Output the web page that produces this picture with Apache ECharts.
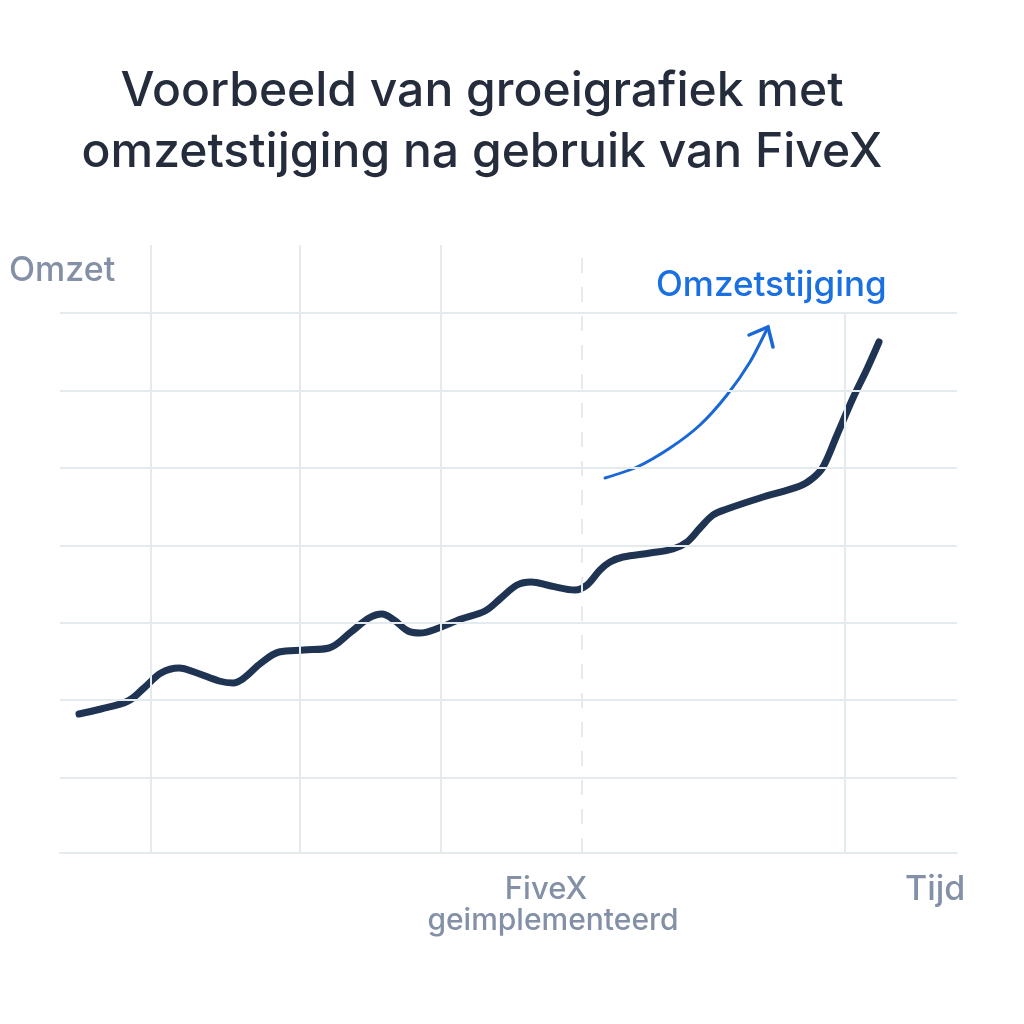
<!DOCTYPE html>
<html>
<head>
<meta charset="utf-8">
<title>Groeigrafiek</title>
<script src="https://cdn.jsdelivr.net/npm/echarts@6/dist/echarts.min.js"></script>
<style>
  html, body { margin: 0; padding: 0; background: #fff; }
  #chart { width: 1024px; height: 1024px; }
</style>
</head>
<body>
<div id="chart"></div>
<script>
// tijd / omzet
const revenueLine = [
  [1.9,13.9],[4.1,14.4],[6.8,15.2],[8.4,16.5],[10.1,18.0],[11.9,18.5],[13.7,18.0],[15.9,17.2],
  [17.3,17.0],[18.4,17.5],[20.1,19.0],[21.9,20.1],[24.4,20.3],[26.9,20.5],[29.1,22.1],[30.9,23.5],
  [32.2,23.9],[33.4,23.3],[34.8,22.2],[36.0,22.0],[37.6,22.4],[40.1,23.4],[42.5,24.2],[44.1,25.5],
  [45.7,26.8],[47.1,27.1],[49.1,26.7],[51.5,26.3],[52.7,26.8],[54.0,28.3],[55.0,29.1],[56.3,29.6],
  [59.0,30.0],[61.3,30.4],[62.7,31.1],[64.0,32.5],[65.3,33.8],[66.7,34.4],[70.0,35.5],[74.0,36.7],
  [75.3,37.5],[76.3,38.6],[77.7,41.8],[79.3,45.5],[80.7,48.4],[81.9,51.1]
];
const arrowCurve = [[54.5,37.5],[57.7,38.6],[61.0,40.5],[64.0,42.8],[66.7,45.8],[69.0,49.1],[70.8,52.6]];
const arrowHead = [[68.9,51.8],[70.8,52.6],[71.3,50.6]];

const gridRows = [7.5, 15.3, 23.0, 30.7, 38.5, 46.2, 54.0];
const gridCols = [[9.1, 60.8], [24.0, 60.8], [38.1, 60.8], [78.5, 54.0]];
const fivexCol = 52.2;
const xMax = 89.7;
const yMax = 60.8;

const titleText = "Voorbeeld van groeigrafiek met\nomzetstijging na gebruik van FiveX";
const yName = "Omzet";
const xName = "Tijd";
const fivexName = "FiveX";
const fivexSub = "geimplementeerd";
const riseName = "Omzetstijging";

const fontName = "Inter";
const gridColor = "#e4ebef";
const mutedText = "#8390a6";

function label(text, x, y, size, color, weight, align) {
  return {
    type: "text", x: x, y: y, silent: true,
    style: {
      text: text, fill: color, font: `${weight} ${size}px ${fontName}`,
      textAlign: align || "left", textVerticalAlign: "middle"
    }
  };
}

const chart = echarts.init(document.getElementById("chart"));
chart.setOption({
  animation: false,
  backgroundColor: "#fff",
  title: {
    text: titleText,
    left: 477, top: 56, textAlign: "center",
    textStyle: { color: "#252d3d", fontFamily: fontName, fontWeight: 500, fontSize: 48, lineHeight: 61 }
  },
  grid: { left: 60, right: 67, top: 245, bottom: 171 },
  xAxis: {
    type: "value", min: 0, max: xMax,
    axisLine: { show: true, onZero: false, lineStyle: { color: gridColor, width: 2 } },
    axisTick: { show: false }, axisLabel: { show: false }, splitLine: { show: false }
  },
  yAxis: {
    type: "value", min: 0, max: yMax,
    axisLine: { show: false }, axisTick: { show: false },
    axisLabel: { show: false }, splitLine: { show: false }
  },
  graphic: [
    label(yName, 9, 271, 34, mutedText, 500),
    label(riseName, 656, 285, 35, "#1a70e0", 500),
    label(fivexName, 546, 890, 31, mutedText, 500, "center"),
    label(fivexSub, 553, 921, 30, mutedText, 500, "center"),
    label(xName, 905, 890, 34, mutedText, 500)
  ],
  series: [
    {
      // rasterlijnen
      type: "line", data: [], silent: true,
      markLine: {
        silent: true, symbol: "none", animation: false, label: { show: false },
        lineStyle: { color: gridColor, width: 2, type: "solid" },
        data: gridRows.map((y) => [{ coord: [0, y] }, { coord: [xMax, y] }])
          .concat(gridCols.map((c) => [{ coord: [c[0], 0] }, { coord: [c[0], c[1]] }]))
          .concat([[
            { coord: [fivexCol, 0], lineStyle: { type: [15, 14], color: gridColor, width: 2 } },
            { coord: [fivexCol, yMax] }
          ]])
      }
    },
    {
      name: "Omzet", type: "line", data: revenueLine, smooth: 0.35,
      showSymbol: false, silent: true, z: 4,
      lineStyle: { color: "#1f3453", width: 7, cap: "round", join: "round" }
    },
    {
      name: "Omzetstijging", type: "line", data: arrowCurve, smooth: 0.25,
      showSymbol: false, silent: true, z: 3,
      lineStyle: { color: "#1a68d6", width: 3, cap: "round" }
    },
    {
      type: "line", data: arrowHead,
      showSymbol: false, silent: true, z: 3,
      lineStyle: { color: "#1a68d6", width: 3.5, cap: "round", join: "miter" }
    }
  ]
});
window.addEventListener("resize", () => chart.resize());
</script>
</body>
</html>
